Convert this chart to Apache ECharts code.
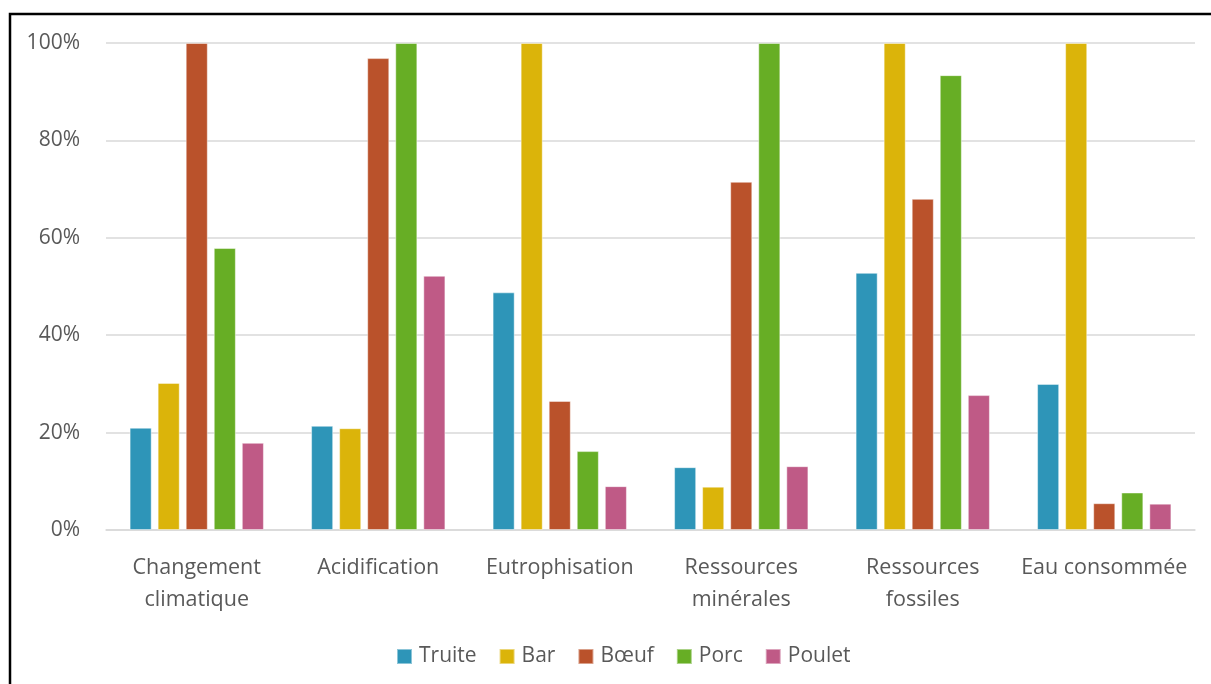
<!DOCTYPE html>
<html>
<head>
<meta charset="utf-8">
<script src="https://cdn.jsdelivr.net/npm/echarts@6/dist/echarts.min.js"></script>
<style>
  html, body { margin: 0; padding: 0; background: #fff; }
  #main { width: 1211px; height: 684px; }
</style>
</head>
<body>
<div id="main"></div>
<script>
// categories (tick labels, wrapped like the original)
const categories = [
  'Changement\nclimatique',
  'Acidification',
  'Eutrophisation',
  'Ressources\nminérales',
  'Ressources\nfossiles',
  'Eau consommée'
];
const yTicks = [0, 20, 40, 60, 80, 100];

// values in % (relative to the worst of the five)
const truite = [21.0, 21.4, 48.8, 12.9, 52.8, 30.0];
const bar    = [30.2, 20.9, 100, 8.9, 100, 100];
const boeuf  = [100, 96.9, 26.5, 71.5, 68.0, 5.5];
const porc   = [57.9, 100, 16.2, 100, 93.4, 7.7];
const poulet = [17.9, 52.2, 9.0, 13.1, 27.7, 5.4];

const seriesNames = ['Truite', 'Bar', 'Bœuf', 'Porc', 'Poulet'];
const seriesData = [truite, bar, boeuf, porc, poulet];
const colors = ['#2E95B8', '#DBB40A', '#BA522B', '#67AE25', '#BF5A86'];

const font = '"Open Sans", "Noto Sans", sans-serif';
const grey = '#595959';

let chart = echarts.init(document.getElementById('main'));

chart.setOption({
  animation: false,
  color: colors,
  graphic: [
    {
      type: 'rect',
      shape: { x: 10, y: 14, width: 1400, height: 900 },
      style: { fill: 'none', stroke: '#000', lineWidth: 2.5 },
      z: 100
    }
  ],
  grid: { left: 106, right: 16, top: 43, bottom: 154 },
  legend: {
    data: seriesNames,
    left: 391,
    top: 641,
    itemWidth: 15,
    itemHeight: 15,
    itemGap: 22,
    icon: 'rect',
    textStyle: { fontFamily: font, fontSize: 21, color: grey, padding: [0, 0, 0, 2] }
  },
  xAxis: {
    type: 'category',
    data: categories,
    axisLine: { lineStyle: { color: '#D9D9D9', width: 1.5 } },
    axisTick: { show: false },
    axisLabel: {
      interval: 0,
      fontFamily: font,
      fontSize: 21.5,
      color: grey,
      margin: 22,
      lineHeight: 32
    }
  },
  yAxis: {
    type: 'value',
    min: 0,
    max: 100,
    interval: 20,
    axisLine: { show: false },
    axisTick: { show: false },
    splitLine: { lineStyle: { color: '#D9D9D9', width: 1.5 } },
    axisLabel: {
      fontFamily: font,
      fontSize: 21,
      color: grey,
      margin: 26,
      formatter: (v) => yTicks.indexOf(v) >= 0 ? v + '%' : ''
    }
  },
  series: seriesNames.map((name, i) => ({
    name: name,
    type: 'bar',
    data: seriesData[i],
    barGap: '27%',
    barCategoryGap: '26%',
    itemStyle: { borderColor: 'rgba(255,255,255,0.45)', borderWidth: 1 }
  }))
});
</script>
</body>
</html>
